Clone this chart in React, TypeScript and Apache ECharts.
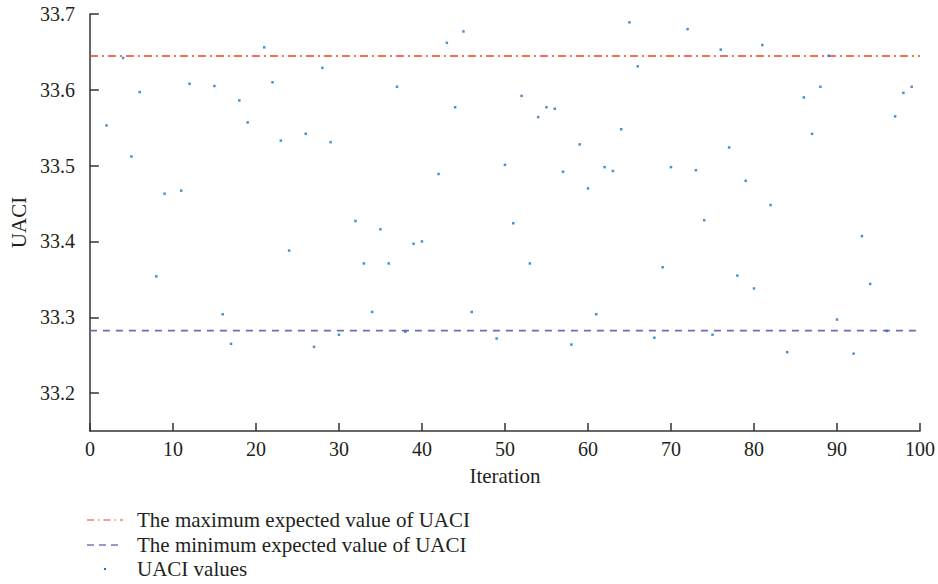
import React, { useEffect, useRef } from "react";
import * as echarts from "echarts";

const iterations = [
  2, 4, 5, 6, 8, 9, 11, 12, 15, 16, 17, 18, 19, 21, 22, 23, 24, 26, 27, 28, 29, 30,
  32, 33, 34, 35, 36, 37, 38, 39, 40, 42, 43, 44, 45, 46, 49, 50, 51, 52, 53, 54,
  55, 56, 57, 58, 59, 60, 61, 62, 63, 64, 65, 66, 68, 69, 70, 72, 73, 74, 75, 76,
  77, 78, 79, 80, 81, 82, 84, 86, 87, 88, 89, 90, 92, 93, 94, 96, 97, 98, 99,
];
const uaciValues = [
  33.553, 33.642, 33.512, 33.597, 33.354, 33.463, 33.467, 33.608, 33.605, 33.304,
  33.265, 33.586, 33.557, 33.656, 33.61, 33.533, 33.388, 33.542, 33.261, 33.629,
  33.531, 33.277, 33.427, 33.371, 33.307, 33.416, 33.371, 33.604, 33.281, 33.397,
  33.4, 33.489, 33.662, 33.577, 33.677, 33.307, 33.272, 33.501, 33.424, 33.592,
  33.371, 33.564, 33.577, 33.575, 33.492, 33.264, 33.528, 33.47, 33.304, 33.498,
  33.493, 33.548, 33.689, 33.631, 33.273, 33.366, 33.498, 33.68, 33.494, 33.428,
  33.277, 33.653, 33.524, 33.355, 33.48, 33.338, 33.659, 33.448, 33.254, 33.59,
  33.542, 33.604, 33.645, 33.297, 33.252, 33.407, 33.344, 33.282, 33.565, 33.596,
  33.604,
];
const maxExpected = 33.6447;
const minExpected = 33.2824;
const xRange = [0, 100];
const yTicks = [33.2, 33.3, 33.4, 33.5, 33.6, 33.7];
const legendLabels = [
  "The maximum expected value of UACI",
  "The minimum expected value of UACI",
  "UACI values",
];

const FONT = "Liberation Serif";
const RED = "#e8431f";
const PURPLE = "#7668ab";
const BLUE = "#1b74c0";
const TEXT = "#231f20";
const FS = 20;
const FS_NAME = 21;

export default function App() {
  const ref = useRef<HTMLDivElement>(null);
  useEffect(() => {
    if (!ref.current) return;
    const chart = echarts.init(ref.current, undefined, { renderer: "svg" });
    const rowY = [520, 545, 569];
    const legendGraphics: any[] = [
      {
        type: "line",
        shape: { x1: 87, y1: rowY[0], x2: 123, y2: rowY[0] },
        style: { stroke: RED, lineWidth: 1.2, lineDash: [7, 4, 1.5, 4] },
      },
      {
        type: "line",
        shape: { x1: 87, y1: rowY[1], x2: 123, y2: rowY[1] },
        style: { stroke: "#3a2f9a", lineWidth: 1.2, lineDash: [7, 5] },
      },
      {
        type: "rect",
        shape: { x: 104, y: rowY[2] - 1, width: 2, height: 2 },
        style: { fill: BLUE },
      },
      ...legendLabels.map((t, i) => ({
        type: "text",
        x: 137,
        y: rowY[i],
        style: {
          text: t,
          fontFamily: FONT,
          fontSize: FS_NAME,
          fill: TEXT,
          verticalAlign: "middle",
        },
      })),
    ];
    chart.setOption({
      animation: false,
      backgroundColor: "#ffffff",
      textStyle: { fontFamily: FONT },
      grid: { left: 87, right: 18, top: 14, bottom: 153, containLabel: false },
      xAxis: {
        type: "value",
        min: xRange[0],
        max: xRange[1],
        interval: 10,
        name: "Iteration",
        nameLocation: "middle",
        nameGap: 34,
        nameTextStyle: { fontFamily: FONT, fontSize: FS_NAME, color: TEXT },
        axisLine: { onZero: false, lineStyle: { color: "#333", width: 1.5 } },
        axisTick: { inside: true, length: 8, lineStyle: { color: "#333", width: 1.5 } },
        axisLabel: { fontFamily: FONT, fontSize: FS, color: TEXT, margin: 8 },
        splitLine: { show: false },
      },
      yAxis: {
        type: "value",
        min: 33.15,
        max: 33.7,
        name: "UACI",
        nameLocation: "middle",
        nameGap: 55,
        nameRotate: 90,
        nameTextStyle: { fontFamily: FONT, fontSize: FS_NAME, color: TEXT },
        axisLine: { show: true, onZero: false, lineStyle: { color: "#333", width: 1.5 } },
        axisTick: {
          show: true,
          inside: true,
          length: 9,
          customValues: yTicks,
          lineStyle: { color: "#333", width: 1.5 },
        },
        axisLabel: {
          fontFamily: FONT,
          fontSize: FS,
          color: TEXT,
          margin: 15,
          customValues: yTicks,
          formatter: (v: number) => v.toFixed(1),
        },
        splitLine: { show: false },
      },
      series: [
        {
          type: "line",
          name: legendLabels[0],
          data: [
            [xRange[0], maxExpected],
            [xRange[1], maxExpected],
          ],
          symbol: "none",
          lineStyle: { color: RED, width: 1.4, type: [8, 4, 2, 4] },
          z: 2,
        },
        {
          type: "line",
          name: legendLabels[1],
          data: [
            [xRange[0], minExpected],
            [xRange[1], minExpected],
          ],
          symbol: "none",
          lineStyle: { color: PURPLE, width: 1.6, type: [7, 6] },
          z: 2,
        },
        {
          type: "scatter",
          name: legendLabels[2],
          data: iterations.map((it, i) => [it, uaciValues[i]]),
          symbol: "rect",
          symbolSize: 2.5,
          itemStyle: { color: BLUE },
          z: 3,
        },
      ],
      graphic: legendGraphics,
    });
    return () => chart.dispose();
  }, []);
  return (
    <div
      ref={ref}
      style={{ position: "absolute", left: 0, top: 0, width: 938, height: 584 }}
    />
  );
}
